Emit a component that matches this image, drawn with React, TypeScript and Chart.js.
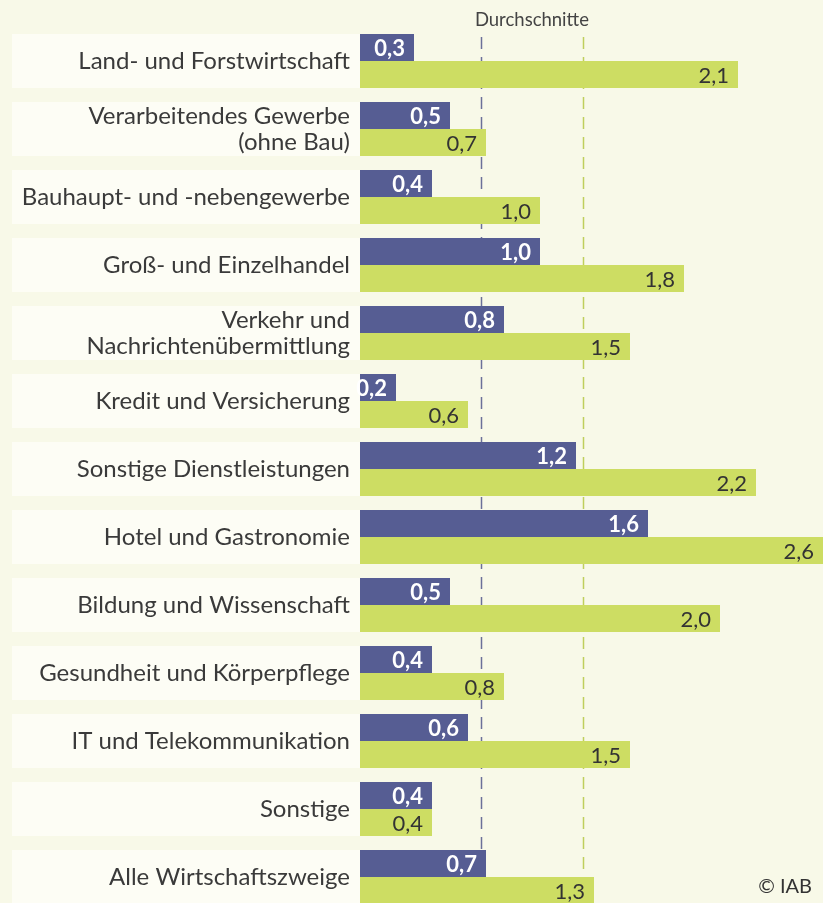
import React, { useEffect, useRef } from "react";
import { Chart, registerables } from "chart.js";

Chart.register(...registerables);

const categories: (string | string[])[] = [
  "Land- und Forstwirtschaft",
  ["Verarbeitendes Gewerbe", "(ohne Bau)"],
  "Bauhaupt- und -nebengewerbe",
  "Groß- und Einzelhandel",
  ["Verkehr und", "Nachrichtenübermittlung"],
  "Kredit und Versicherung",
  "Sonstige Dienstleistungen",
  "Hotel und Gastronomie",
  "Bildung und Wissenschaft",
  "Gesundheit und Körperpflege",
  "IT und Telekommunikation",
  "Sonstige",
  "Alle Wirtschaftszweige",
];

const seriesBlue = [0.3, 0.5, 0.4, 1.0, 0.8, 0.2, 1.2, 1.6, 0.5, 0.4, 0.6, 0.4, 0.7];
const seriesGreen = [2.1, 0.7, 1.0, 1.8, 1.5, 0.6, 2.2, 2.6, 2.0, 0.8, 1.5, 0.4, 1.3];

const averages = [0.67, 1.24];
const averageTitle = "Durchschnitte";
const copyright = "© IAB";

const BG = "#f8f9e8";
const BAND = "#fdfdf5";
const BLUE = "#565d93";
const GREEN = "#cddd63";
const AVG_COLORS = ["#6b7099", "#bfcf5c"];
const TEXT = "#3a3a3a";
const FONT = "Lato, Roboto, sans-serif";

const fmt = (v: number) => v.toFixed(1).replace(".", ",");

export default function App() {
  const ref = useRef<HTMLCanvasElement | null>(null);

  useEffect(() => {
    if (!ref.current) return;

    const decor = {
      id: "decor",
      beforeDraw(chart: any) {
        const { ctx, chartArea, scales } = chart;
        const y = scales.y;
        ctx.save();
        ctx.fillStyle = BG;
        ctx.fillRect(0, 0, chart.width, chart.height);
        const cat = y.getPixelForValue(1) - y.getPixelForValue(0);
        const half = (cat * 0.794) / 2;
        ctx.fillStyle = BAND;
        categories.forEach((_, i) => {
          const c = y.getPixelForValue(i);
          ctx.fillRect(12, c - half, chartArea.left - 12, half * 2);
        });
        ctx.restore();
      },
      beforeDatasetsDraw(chart: any) {
        const { ctx, scales } = chart;
        const x = scales.x;
        ctx.save();
        ctx.lineWidth = 1.5;
        ctx.setLineDash([12, 8]);
        const px = averages.map((a) => x.getPixelForValue(a));
        px.forEach((p, i) => {
          ctx.strokeStyle = AVG_COLORS[i];
          ctx.beginPath();
          ctx.moveTo(Math.round(p) + 0.5, 37);
          ctx.lineTo(Math.round(p) + 0.5, chart.height);
          ctx.stroke();
        });
        ctx.setLineDash([]);
        ctx.fillStyle = "#444";
        ctx.font = `18.5px ${FONT}`;
        ctx.textAlign = "center";
        ctx.textBaseline = "middle";
        ctx.fillText(averageTitle, (px[0] + px[1]) / 2, 20);
        ctx.restore();
      },
      afterDatasetsDraw(chart: any) {
        const { ctx } = chart;
        ctx.save();
        ctx.textAlign = "right";
        ctx.textBaseline = "middle";
        chart.data.datasets.forEach((ds: any, di: number) => {
          const meta = chart.getDatasetMeta(di);
          meta.data.forEach((bar: any, i: number) => {
            const v = ds.data[i];
            ctx.fillStyle = di === 0 ? "#ffffff" : "#333333";
            ctx.font = `${di === 0 ? "bold " : ""}22px ${FONT}`;
            ctx.fillText(fmt(v), Math.min(bar.x, 823) - 9, bar.y + 1);
          });
        });
        ctx.fillStyle = "#333";
        ctx.font = `20px ${FONT}`;
        ctx.textAlign = "right";
        ctx.fillText(copyright, 812, 887);
        ctx.restore();
      },
    };

    const chart = new Chart(ref.current, {
      type: "bar",
      data: {
        labels: categories as any,
        datasets: [
          { data: seriesBlue, backgroundColor: BLUE, categoryPercentage: 0.794, barPercentage: 1 },
          { data: seriesGreen, backgroundColor: GREEN, categoryPercentage: 0.794, barPercentage: 1 },
        ],
      },
      options: {
        indexAxis: "y",
        animation: false,
        responsive: false,
        devicePixelRatio: 1,
        layout: { padding: { top: 27, left: 0, right: 0, bottom: 0 } },
        plugins: { legend: { display: false }, tooltip: { enabled: false } },
        scales: {
          x: { display: false, min: 0, max: 2.7 },
          y: {
            grid: { display: false, drawTicks: false },
            border: { display: false },
            ticks: {
              color: TEXT,
              padding: 10,
              font: { family: FONT, size: 24, lineHeight: 1.1 },
            },
            afterFit(scale: any) {
              scale.width = 360;
              scale.paddingTop = 0;
              scale.paddingBottom = 0;
            },
          },
        },
      },
      plugins: [decor],
    });
    return () => chart.destroy();
  }, []);

  return (
    <div
      style={{
        position: "absolute",
        left: 0,
        top: 0,
        width: 823,
        height: 903,
        overflow: "hidden",
        background: BG,
      }}
    >
      <canvas ref={ref} width={846} height={911} style={{ display: "block" }} />
    </div>
  );
}
